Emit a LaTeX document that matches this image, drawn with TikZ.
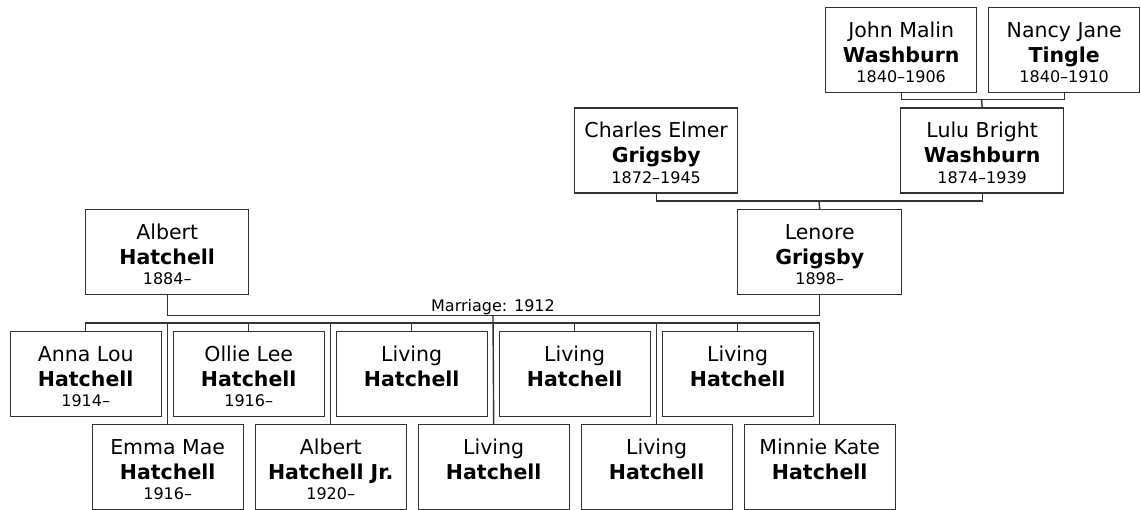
\documentclass[tikz,border=0pt]{standalone}
\usepackage{fontspec}
\setmainfont{DejaVu Sans}
\newcommand\pcard[4]{\parbox[t][85pt][t]{#1pt}{\centering\offinterlineskip
\raisebox{0pt}[29.5pt][0pt]{\fontsize{20.5}{24}\selectfont #2}\par
\raisebox{0pt}[25pt][0pt]{\fontsize{20.5}{24}\selectfont\bfseries #3}\par
\raisebox{0pt}[20.5pt][0pt]{\fontsize{16}{19}\selectfont #4}\par}}
\begin{document}
\begin{tikzpicture}[x=1pt,y=-1pt,
  card/.style={draw=black!80, line width=1.4pt, rectangle, inner sep=0pt, anchor=north west, fill=white},
  link/.style={draw=black!80, line width=1.4pt},
  lbl/.style={font=\fontsize{16}{19}\selectfont, inner sep=0pt, anchor=base}]
\useasboundingbox (0,0) rectangle (1141,510);
% great-grandparents
\node[card] (john)  at (825,7)   {\pcard{151}{John Malin}{Washburn}{1840--1906}};
\node[card] (nancy) at (988,7)   {\pcard{151}{Nancy Jane}{Tingle}{1840--1910}};
% grandparents
\node[card] (charles) at (574,107.5) {\pcard{163}{Charles Elmer}{Grigsby}{1872--1945}};
\node[card] (lulu)    at (900,107.5) {\pcard{163}{Lulu Bright}{Washburn}{1874--1939}};
% parents
\node[card] (albert) at (85,209)  {\pcard{163}{Albert}{Hatchell}{1884--}};
\node[card] (lenore) at (737,209) {\pcard{164}{Lenore}{Grigsby}{1898--}};
% children row 1
\node[card] (anna)  at (9.5,331)   {\pcard{151}{Anna Lou}{Hatchell}{1914--}};
\node[card] (ollie) at (172.5,331) {\pcard{151}{Ollie Lee}{Hatchell}{1916--}};
\node[card] (liva)  at (335.5,331) {\pcard{151}{Living}{Hatchell}{}};
\node[card] (livb)  at (498.5,331) {\pcard{151}{Living}{Hatchell}{}};
\node[card] (livc)  at (661.5,331) {\pcard{151}{Living}{Hatchell}{}};
% children row 2
\node[card] (emma)   at (91.5,424)  {\pcard{151}{Emma Mae}{Hatchell}{1916--}};
\node[card] (albjr)  at (254.5,424) {\pcard{151}{Albert}{Hatchell Jr.}{1920--}};
\node[card] (livd)   at (417.5,424) {\pcard{151}{Living}{Hatchell}{}};
\node[card] (live)   at (580.5,424) {\pcard{151}{Living}{Hatchell}{}};
\node[card] (minnie) at (743.5,424) {\pcard{151}{Minnie Kate}{Hatchell}{}};
% junctions
\coordinate (j1) at (981.5,99.5);
\coordinate (j2) at (819,201);
\coordinate (mar) at (493,315.5);
\coordinate (bus) at (493,323);
% connectors
\draw[link] (john.south) |- (j1) -| (nancy.south);
\draw[link] (j1) -- (lulu.north);
\draw[link] (charles.south) |- (j2) -| (lulu.south);
\draw[link] (j2) -- (lenore.north);
\draw[link] (albert.south) |- (mar) -| (lenore.south);
\node[lbl] (marlbl) at (493,312) {Marriage: 1912};
\draw[link] (mar) -- (livd.north);
\draw[link] (anna.north) |- (bus) -| (minnie.north);
\foreach \c in {ollie,liva,livb,livc,emma,albjr,live}
  \draw[link] (\c.north) -- (\c.north |- bus);
\end{tikzpicture}
\end{document}
